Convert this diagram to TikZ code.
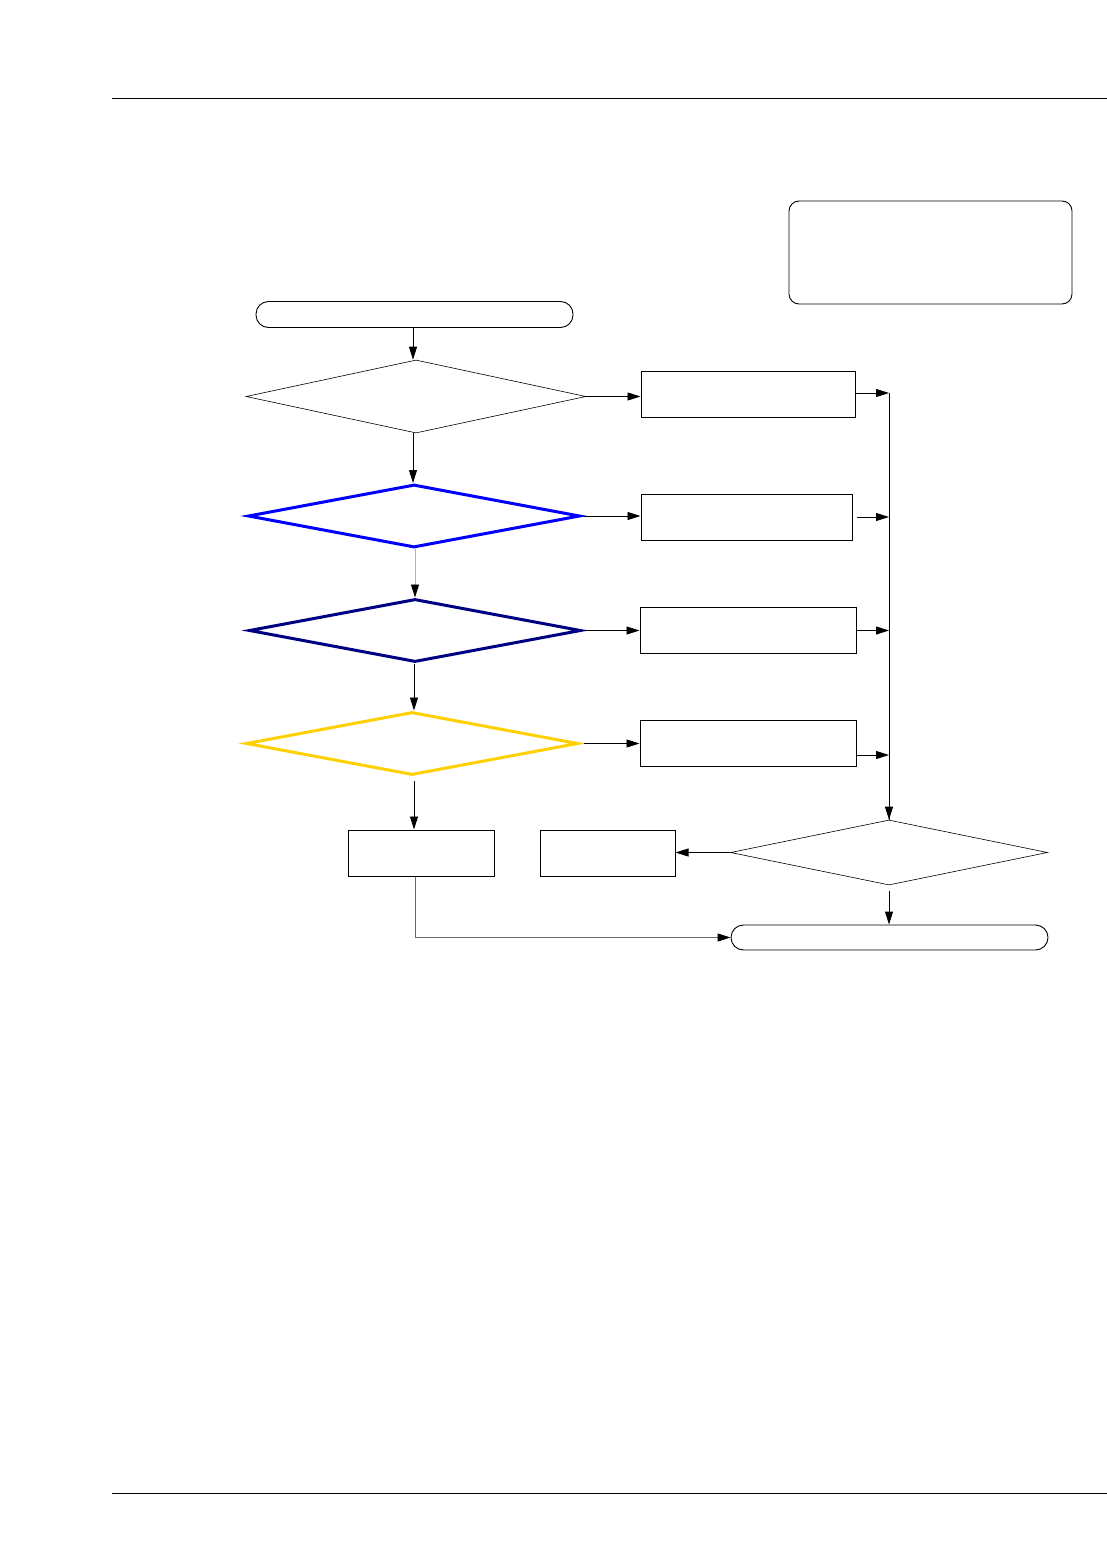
\documentclass[tikz,border=0pt]{standalone}
\usepackage{tikz}
\usetikzlibrary{arrows.meta,calc,positioning,shapes.geometric}

\definecolor{decblue}{RGB}{0,0,255}
\definecolor{decnavy}{RGB}{0,0,130}
\definecolor{decgold}{RGB}{255,208,0}

\begin{document}
\begin{tikzpicture}[
    x=1pt, y=-1pt,
    box/.style={
        draw,
        line width=1pt,
        minimum width=214pt,
        minimum height=46pt,
        inner sep=0pt
    },
    smallbox/.style={
        draw,
        line width=1pt,
        minimum width=146pt,
        minimum height=46pt,
        inner sep=0pt
    },
    term/.style={
        draw,
        line width=0.9pt,
        rounded corners=12.5pt,
        minimum height=26pt,
        inner sep=0pt
    },
    decision/.style={
        draw,
        diamond,
        minimum width=340pt,
        minimum height=67pt,
        inner sep=0pt
    },
    boldcheck/.style={decision, line width=3pt, minimum width=332pt, minimum height=63pt},
    arr/.style={-{Triangle[length=13pt,width=8pt,color=black]}, line width=0.9pt}
]
    \useasboundingbox (0,0) rectangle (1107,1554);
    %% page rules
    \draw[line width=1pt] (112,99) -- (1107,99);
    \draw[line width=1pt] (112,1493) -- (1107,1493);

    %% note box
    \node[draw, line width=0.9pt, rounded corners=10pt, minimum width=283pt,
          minimum height=103pt, inner sep=0pt] (note) at (930.5,252.5) {};

    %% start
    \node[term, minimum width=317pt] (start) at (414.5,314.5) {};

    %% decisions
    \node[decision, line width=0.6pt, minimum height=73pt] (chk1) at (416,396.5) {};
    \node[boldcheck, draw=decblue] (chk2) at (414,516) {};
    \node[boldcheck, draw=decnavy] (chk3) at (415,630.5) {};
    \node[boldcheck, draw=decgold] (chk4) at (412,743.5) {};

    %% actions
    \node[box] (act1) at (748,394.5) {};
    \node[box, minimum width=211pt] (act2) at (746.5,517) {};
    \node[box, minimum width=216pt] (act3) at (748,630.5) {};
    \node[box, minimum width=216pt] (act4) at (748,743.5) {};

    %% bottom row
    \node[smallbox] (res1) at (421,853) {};
    \node[smallbox, minimum width=135pt] (res2) at (607.5,853) {};
    \node[decision, line width=0.6pt, minimum width=317pt, minimum height=65pt] (chk5) at (889,852.5) {};
    \node[term, minimum width=317pt, minimum height=25pt] (stop) at (889.5,937.5) {};

    %% bus
    \coordinate (bus) at (889,393);

    %% arrows
    \draw[arr] (start.south -| 413,0) -- (chk1.north -| 413,0);
    \draw[arr] (chk1.east) -- (act1.west |- chk1.east);
    \draw[arr] (chk1.south -| 413,0) -- (chk2.north -| 413,0);
    \draw[arr] ([xshift=2pt]chk2.east) -- (act2.west |- chk2.east);
    \draw[arr, draw=gray!60] (chk2.south -| 415,0) -- (chk3.north -| 415,0);
    \draw[arr] ([xshift=2pt]chk3.east) -- (act3.west |- chk3.east);
    \draw[arr] (chk3.south -| 414,0) -- (chk4.north -| 414,0);
    \draw[arr] ([xshift=4pt]chk4.east) -- (act4.west |- chk4.east);
    \draw[arr] (414,781) -- (res1.north -| 414,0);

    \draw[line width=1pt] (bus) -- (chk5.north);
    \draw[arr] (act1.east |- bus) -- (bus);
    \draw[arr] ([xshift=4pt]act2.east) -- (act2.east -| bus);
    \draw[arr] (act3.east) -- (act3.east -| bus);
    \draw[arr] ([yshift=-11.5pt]act4.east) -- ([yshift=-11.5pt]act4.east -| bus);
    \draw[arr] (bus |- chk5.north) ++(0,-13) -- (chk5.north);

    \draw[arr] (chk5.west) -- (res2.east |- chk5.west);
    \draw[arr] (889,891) -- (stop.north -| 889,0);
    \draw[arr, draw=gray!80!black] (res1.south -| 415,0) |- (stop.west);
\end{tikzpicture}
\end{document}
